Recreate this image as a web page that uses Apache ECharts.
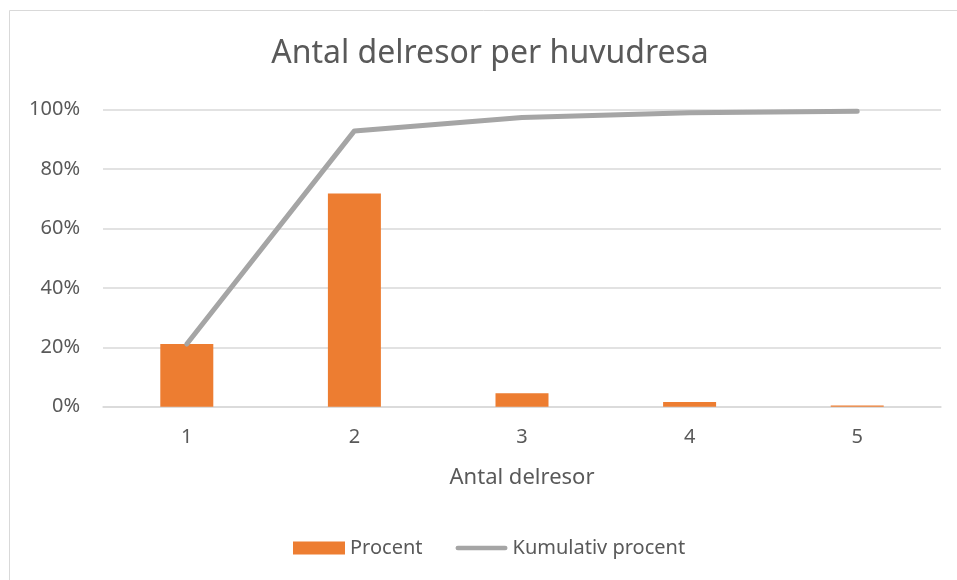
<!DOCTYPE html>
<html>
<head>
<meta charset="utf-8">
<script src="https://cdn.jsdelivr.net/npm/echarts@6/dist/echarts.min.js"></script>
<style>
  html, body { margin: 0; padding: 0; background: #fff; overflow: hidden; }
  #chart { width: 957px; height: 580px; }
</style>
</head>
<body>
<div id="chart"></div>
<script>
  // data (percent)
  const categories = ['1', '2', '3', '4', '5']
  const procent = [21.1, 71.7, 4.5, 1.6, 0.4]
  const kumulativ = [21.1, 92.8, 97.3, 98.9, 99.4]
  const yTicks = [0, 20, 40, 60, 80, 100]

  const textColor = '#595959'
  const font = '"Noto Sans", "Open Sans", sans-serif'
  // rounded thin bar used as legend icon for the line
  const lineIcon = 'path://M2.5,0 L52.5,0 A2.5,2.5 0 0 1 52.5,5 L2.5,5 A2.5,2.5 0 0 1 2.5,0 Z'

  const chart = echarts.init(document.getElementById('chart'), null, { renderer: 'canvas' })

  chart.setOption({
    animation: false,
    textStyle: { fontFamily: font },
    title: {
      text: 'Antal delresor per huvudresa',
      left: 485,
      top: 33,
      textAlign: 'center',
      textStyle: { color: textColor, fontSize: 32, fontWeight: 'normal', fontFamily: font }
    },
    graphic: [{
      type: 'rect',
      shape: { x: 9.5, y: 10.5, width: 1000, height: 1000 },
      style: { fill: 'none', stroke: '#d9d9d9', lineWidth: 1 },
      silent: true
    }],
    grid: {
      left: 103,
      right: 16,
      top: 109.5,
      bottom: 173.3
    },
    legend: {
      top: 533,
      left: 288,
      itemGap: 33,
      itemWidth: 52,
      itemHeight: 13,
      textStyle: { color: textColor, fontSize: 20 },
      data: [
        { name: 'Procent', icon: 'rect' },
        { name: 'Kumulativ procent', icon: lineIcon, itemStyle: { color: '#A5A5A5' } }
      ]
    },
    xAxis: {
      type: 'category',
      data: categories,
      name: 'Antal delresor',
      nameLocation: 'middle',
      nameGap: 60,
      nameTextStyle: { color: textColor, fontSize: 22 },
      axisLine: { show: true, lineStyle: { color: '#d9d9d9', width: 1.5 } },
      axisTick: { show: false },
      axisLabel: { color: textColor, fontSize: 20, margin: 21 }
    },
    yAxis: {
      type: 'value',
      min: yTicks[0],
      max: yTicks[yTicks.length - 1],
      interval: 20,
      axisLine: { show: false },
      axisTick: { show: false },
      axisLabel: { color: textColor, fontSize: 20, margin: 23, formatter: '{value}%' },
      splitLine: { lineStyle: { color: '#d9d9d9', width: 1.5 } }
    },
    series: [
      {
        name: 'Procent',
        type: 'bar',
        data: procent,
        barWidth: 53,
        itemStyle: { color: '#ED7D31' }
      },
      {
        name: 'Kumulativ procent',
        type: 'line',
        data: kumulativ,
        symbol: 'none',
        lineStyle: { color: '#A5A5A5', width: 5, cap: 'round', join: 'round' },
        itemStyle: { color: '#A5A5A5' }
      }
    ]
  })
</script>
</body>
</html>
